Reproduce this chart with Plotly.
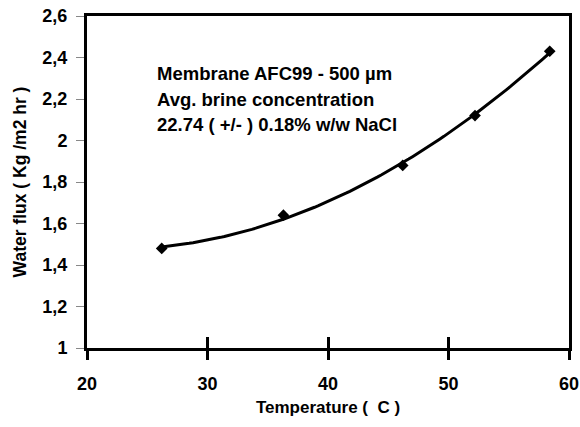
import numpy as np
import plotly.graph_objects as go

# Data
temperature = [26.2, 36.3, 46.2, 52.2, 58.4]
water_flux = [1.48, 1.64, 1.88, 2.12, 2.43]

x_tick_vals = [20, 30, 40, 50, 60]
x_tick_text = ["20", "30", "40", "50", "60"]
y_tick_vals = [1.0, 1.2, 1.4, 1.6, 1.8, 2.0, 2.2, 2.4, 2.6]
y_tick_text = ["1", "1,2", "1,4", "1,6", "1,8", "2", "2,2", "2,4", "2,6"]

note_lines = ["Membrane AFC99 - 500 µm",
              "Avg. brine concentration",
              "22.74 ( +/- ) 0.18% w/w NaCl"]

# Polynomial (2nd order) trend line fitted to the measured points
coef = np.polyfit(temperature, water_flux, 2)
xs = np.linspace(min(temperature), max(temperature), 100)
ys = np.polyval(coef, xs)

FONT = "Liberation Sans, Arial, sans-serif"

fig = go.Figure()
fig.add_trace(go.Scatter(x=xs, y=ys, mode="lines",
                         line=dict(color="black", width=3),
                         hoverinfo="skip", showlegend=False))
fig.add_trace(go.Scatter(x=temperature, y=water_flux, mode="markers",
                         marker=dict(symbol="diamond", size=9, color="black"),
                         showlegend=False))
# helper invisible trace for second x axis (inside ticks)
fig.add_trace(go.Scatter(x=[20, 60], y=[1, 1], mode="markers",
                         marker=dict(opacity=0), xaxis="x2",
                         hoverinfo="skip", showlegend=False))

fig.update_layout(
    width=580, height=427,
    margin=dict(l=87, r=11, t=16, b=79),
    paper_bgcolor="white", plot_bgcolor="white",
    font=dict(family=FONT, color="black"),
    xaxis=dict(range=[20, 60], tickvals=x_tick_vals,
               ticktext=["<b>" + t + "</b>" for t in x_tick_text],
               ticks="outside", ticklen=9, tickwidth=3, tickcolor="black",
               showline=True, linewidth=3, linecolor="black", mirror=True,
               showgrid=False, zeroline=False, automargin=False,
               tickfont=dict(size=18, family=FONT, weight=700),
               ticklabelstandoff=8, ticklabeloverflow="allow",
               title=dict(text="<b>Temperature (  C )</b>",
                          font=dict(size=17, family=FONT), standoff=9)),
    xaxis2=dict(range=[20, 60], overlaying="x", anchor="y", side="bottom",
                tickvals=x_tick_vals, ticks="inside", ticklen=11,
                tickwidth=3, tickcolor="black", showticklabels=False,
                showline=False, showgrid=False, zeroline=False),
    yaxis=dict(range=[1, 2.6], tickvals=y_tick_vals,
               ticktext=["<b>" + t + "</b>" for t in y_tick_text],
               ticks="outside", ticklen=8, tickwidth=1, tickcolor="#888888",
               showline=True, linewidth=3, linecolor="black", mirror=True,
               showgrid=False, zeroline=False, automargin=False,
               tickfont=dict(size=18, family=FONT, weight=700),
               ticklabelstandoff=5, ticklabeloverflow="allow",
               title=dict(text="<b>Water flux ( Kg /m2 hr )</b>",
                          font=dict(size=17.5, family=FONT), standoff=12)),
)

note_y = [73, 99, 125]
for line, py in zip(note_lines, note_y):
    fig.add_annotation(xref="paper", yref="paper",
                       x=(155 - 87) / 482, y=(348 - py) / 332,
                       xanchor="left", yanchor="middle", showarrow=False,
                       text="<b>" + line + "</b>",
                       font=dict(size=18.5, family=FONT, color="black"))

# remove the default page margin so the 580x427 figure fills the window
fig.write_html(
    "out.html",
    config={"displayModeBar": False},
    post_script="document.body.style.margin='0';"
                "document.documentElement.style.overflow='hidden';"
                "document.body.style.overflow='hidden';",
)
